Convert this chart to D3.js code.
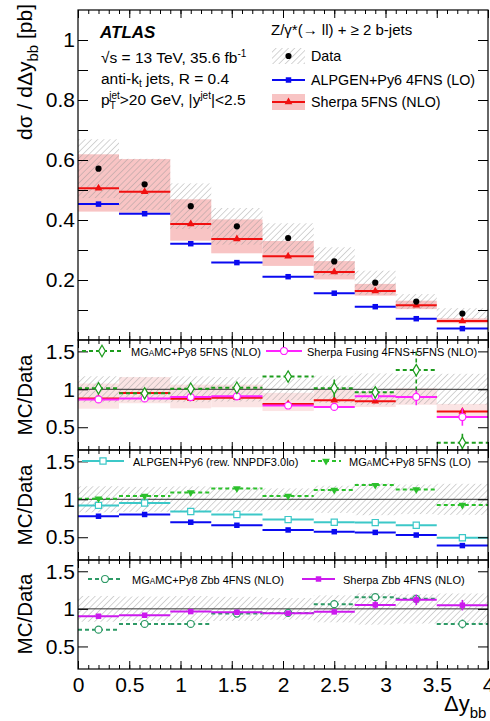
<!DOCTYPE html>
<html>
<head>
<meta charset="utf-8">
<script src="https://cdn.jsdelivr.net/npm/d3@7"></script>
<style>
  body { margin: 0; background: #fff; }
  svg { display: block; font-family: "Liberation Sans", Arial, Helvetica, sans-serif; }
</style>
</head>
<body>
<svg id="chart" width="490" height="721"></svg>
<script>
// bins in delta y_bb
const binEdges = [0, 0.4, 0.9, 1.3, 1.8, 2.3, 2.7, 3.1, 3.5, 4.0];
const binCenters = [0.2, 0.65, 1.1, 1.55, 2.05, 2.5, 2.9, 3.3, 3.75];

// top panel, cross sections [pb]
const dataXs = [0.571, 0.519, 0.446, 0.379, 0.340, 0.262, 0.191, 0.128, 0.088];
const dataErr = [0.098, 0.085, 0.076, 0.061, 0.049, 0.047, 0.040, 0.025, 0.018];
const sherpa5 = [0.506, 0.494, 0.387, 0.337, 0.279, 0.227, 0.163, 0.116, 0.063];
const sherpa5Lo = [0.428, 0.424, 0.331, 0.289, 0.247, 0.202, 0.148, 0.103, 0.056];
const sherpa5Hi = [0.619, 0.603, 0.469, 0.402, 0.330, 0.263, 0.187, 0.131, 0.072];
const alpgen = [0.453, 0.421, 0.321, 0.258, 0.211, 0.156, 0.111, 0.071, 0.038];

// ratio panel 1
const r1Sherpa5 = [0.880, 0.951, 0.876, 0.890, 0.806, 0.857, 0.844, 0.897, 0.707];
const r1Fusing = [0.867, 0.880, 0.898, 0.907, 0.786, 0.768, 0.910, 0.900, 0.635];
const r1FusingErr = [0.02, 0.02, 0.02, 0.02, 0.03, 0.04, 0.03, 0.11, 0.115];
const r1Mg5 = [1.013, 0.947, 1.008, 1.020, 1.168, 1.013, 0.960, 1.253, 0.297];
const r1Mg5Err = [0.06, 0.04, 0.05, 0.04, 0.07, 0.12, 0.08, 0.27, 0.12];

// ratio panel 2
const r2AlpgenRew = [0.920, 0.951, 0.840, 0.800, 0.733, 0.698, 0.693, 0.658, 0.493];
const r2Alpgen = [0.777, 0.800, 0.698, 0.658, 0.596, 0.573, 0.564, 0.529, 0.390];
const r2MgLo = [1.009, 1.044, 1.089, 1.142, 1.044, 1.124, 1.187, 1.129, 0.924];
const r2MgLoErr = [0.02, 0.02, 0.02, 0.02, 0.02, 0.03, 0.03, 0.03, 0.04];

// ratio panel 3
const r3MgZbb = [0.723, 0.799, 0.799, 0.937, 0.946, 1.063, 1.156, 1.134, 0.799];
const r3MgZbbErr = [0.02, 0.02, 0.02, 0.02, 0.02, 0.03, 0.04, 0.05, 0.06];
const r3SherpaZbb = [0.902, 0.915, 0.964, 0.955, 0.942, 0.960, 1.053, 1.120, 1.049];
const r3SherpaZbbErr = [0.02, 0.02, 0.02, 0.02, 0.02, 0.03, 0.05, 0.07, 0.07];

const topTicks = [0.1, 0.2, 0.3, 0.4, 0.5, 0.6, 0.7, 0.8, 0.9, 1.0];
const topLabels = [0.2, 0.4, 0.6, 0.8, 1.0];
const ratioTicks = [0.5, 1, 1.5];
const xMajor = [0, 0.5, 1, 1.5, 2, 2.5, 3, 3.5, 4];

const svg = d3.select("#chart");
const FONT = 21;

const bins = binCenters.map((c, i) => ({ lo: binEdges[i], hi: binEdges[i + 1], c, i }));
const x = d3.scaleLinear().domain([0, 4]).range([78, 488]);
const yTop = d3.scaleLinear().domain([0, 1.1]).range([340, 10]);
const panels = [[340, 450], [450, 560], [560, 669]].map(([t, b]) =>
  d3.scaleLinear().domain([0.2, 1.65]).range([b, t]));

const defs = svg.append("defs");
const hatch = defs.append("pattern")
  .attr("id", "hatch")
  .attr("patternUnits", "userSpaceOnUse")
  .attr("width", 4.4).attr("height", 4.4)
  .attr("patternTransform", "rotate(45)");
hatch.append("line")
  .attr("x1", 0).attr("y1", 0).attr("x2", 0).attr("y2", 4.4)
  .attr("stroke", "#959595").attr("stroke-width", 0.8);

function clipFor(id, y) {
  defs.append("clipPath").attr("id", id).append("rect")
    .attr("x", x.range()[0]).attr("y", y.range()[1])
    .attr("width", x.range()[1] - x.range()[0])
    .attr("height", y.range()[0] - y.range()[1]);
  return svg.append("g").attr("clip-path", `url(#${id})`);
}

function marker(g, type, cx, cy, color) {
  const shapes = {
    circle: [d3.symbolCircle, 30, color, 0],
    square: [d3.symbolSquare, 30, color, 0],
    triUp: [d3.symbolTriangle, 26, color, 0],
    triDown: [d3.symbolTriangle, 26, color, 180],
    openCircle: [d3.symbolCircle, 38, "#fff", 0],
    openSquare: [d3.symbolSquare, 38, "#fff", 0],
    openDiamond: [d3.symbolDiamond, 38, "#fff", 0]
  };
  const [sym, size, fill, rot] = shapes[type];
  g.append("path")
    .attr("d", d3.symbol(sym, size)())
    .attr("transform", `translate(${cx},${cy}) rotate(${rot})`)
    .attr("fill", fill)
    .attr("stroke", color)
    .attr("stroke-width", fill === "#fff" ? 1.2 : 0);
}

function drawSeries(g, y, vals, opt) {
  const errs = opt.err || null;
  bins.forEach(b => {
    const v = vals[b.i];
    if (errs) {
      g.append("line")
        .attr("x1", x(b.c)).attr("x2", x(b.c))
        .attr("y1", y(v - errs[b.i])).attr("y2", y(v + errs[b.i]))
        .attr("stroke", opt.color).attr("stroke-width", 1.6)
        .attr("stroke-dasharray", opt.dash || null);
    }
    g.append("line")
      .attr("x1", x(b.lo)).attr("x2", x(b.hi))
      .attr("y1", y(v)).attr("y2", y(v))
      .attr("stroke", opt.color).attr("stroke-width", 2)
      .attr("stroke-dasharray", opt.dash || null);
    if (opt.marker) marker(g, opt.marker, x(b.c), y(v), opt.color);
  });
}

function drawBand(g, y, lo, hi, fill) {
  g.selectAll(null).data(bins).enter().append("rect")
    .attr("x", b => x(b.lo))
    .attr("width", b => x(b.hi) - x(b.lo))
    .attr("y", b => y(hi[b.i]))
    .attr("height", b => y(lo[b.i]) - y(hi[b.i]))
    .attr("fill", fill);
}

function drawFrame(y, yTickVals, yLabelVals, showX) {
  const [x0, x1] = x.range();
  const [yb, yt] = y.range();
  const fmt = d => String(+d.toFixed(1));

  const left = svg.append("g").attr("transform", `translate(${x0},0)`)
    .call(d3.axisLeft(y).tickValues(yTickVals).tickSize(-10).tickPadding(3)
      .tickFormat(d => yLabelVals.some(v => Math.abs(v - d) < 1e-6) ? fmt(d) : ""));
  const right = svg.append("g").attr("transform", `translate(${x1},0)`)
    .call(d3.axisRight(y).tickValues(yTickVals).tickSize(-10).tickFormat(""));

  const minor = d3.range(0, 41).map(i => i / 10);
  const axes = [
    svg.append("g").attr("transform", `translate(0,${yb})`)
      .call(d3.axisBottom(x).tickValues(minor).tickSize(-4).tickFormat("")),
    svg.append("g").attr("transform", `translate(0,${yt})`)
      .call(d3.axisTop(x).tickValues(minor).tickSize(-4).tickFormat("")),
    svg.append("g").attr("transform", `translate(0,${yt})`)
      .call(d3.axisTop(x).tickValues(xMajor).tickSize(-8).tickFormat(""))
  ];
  const bottomMajor = svg.append("g").attr("transform", `translate(0,${yb})`)
    .call(d3.axisBottom(x).tickValues(xMajor).tickSize(-8).tickPadding(8)
      .tickFormat(showX ? d3.format("~g") : ""));
  axes.push(left, right, bottomMajor);
  axes.forEach(a => {
    a.select(".domain").remove();
    a.selectAll("line").attr("stroke", "#000").attr("stroke-width", 1);
    a.selectAll("text").attr("fill", "#000").attr("font-size", FONT)
      .attr("font-family", "Liberation Sans, Arial, sans-serif");
  });

  svg.append("rect")
    .attr("x", x0).attr("y", yt).attr("width", x1 - x0).attr("height", yb - yt)
    .attr("fill", "none").attr("stroke", "#000").attr("stroke-width", 1.2);
}

// ---------- top panel ----------
const gTop = clipFor("clipTop", yTop);
drawBand(gTop, yTop, sherpa5Lo, sherpa5Hi, "#f8c4c4");
drawBand(gTop, yTop, dataXs.map((d, i) => d - dataErr[i]), dataXs.map((d, i) => d + dataErr[i]), "url(#hatch)");
drawSeries(gTop, yTop, alpgen, { color: "#0a0af0", marker: "square" });
drawSeries(gTop, yTop, sherpa5, { color: "#f01010", marker: "triUp" });
bins.forEach(b => marker(gTop, "circle", x(b.c), yTop(dataXs[b.i]), "#000"));
drawFrame(yTop, topTicks, topLabels, false);

// ---------- ratio panels ----------
const ratioHatchLo = dataXs.map((d, i) => 1 - dataErr[i] / d);
const ratioHatchHi = dataXs.map((d, i) => 1 + dataErr[i] / d);

function ratioBase(k) {
  const y = panels[k];
  const g = clipFor("clipR" + k, y);
  return { g, y };
}
function unityLine(g, y) {
  g.append("line")
    .attr("x1", x(0)).attr("x2", x(4)).attr("y1", y(1)).attr("y2", y(1))
    .attr("stroke", "#333").attr("stroke-width", 1);
}

// panel 1
{
  const { g, y } = ratioBase(0);
  drawBand(g, y, r1Sherpa5.map((v, i) => v * sherpa5Lo[i] / sherpa5[i]),
    r1Sherpa5.map((v, i) => v * sherpa5Hi[i] / sherpa5[i]), "#fbe4e4");
  drawBand(g, y, ratioHatchLo, ratioHatchHi, "url(#hatch)");
  unityLine(g, y);
  drawSeries(g, y, r1Sherpa5, { color: "#f01010", marker: "triUp" });
  drawSeries(g, y, r1Fusing, { color: "#ff22ff", marker: "openCircle", err: r1FusingErr });
  drawSeries(g, y, r1Mg5, { color: "#1c9c1c", marker: "openDiamond", err: r1Mg5Err, dash: "4,3" });
  drawFrame(y, ratioTicks, ratioTicks, false);
}
// panel 2
{
  const { g, y } = ratioBase(1);
  drawBand(g, y, ratioHatchLo, ratioHatchHi, "url(#hatch)");
  unityLine(g, y);
  drawSeries(g, y, r2Alpgen, { color: "#0a0af0", marker: "square" });
  drawSeries(g, y, r2AlpgenRew, { color: "#3cc8c8", marker: "openSquare" });
  drawSeries(g, y, r2MgLo, { color: "#2cc02c", marker: "triDown", err: r2MgLoErr, dash: "4,3" });
  drawFrame(y, ratioTicks, ratioTicks, false);
}
// panel 3
{
  const { g, y } = ratioBase(2);
  drawBand(g, y, ratioHatchLo, ratioHatchHi, "url(#hatch)");
  unityLine(g, y);
  drawSeries(g, y, r3MgZbb, { color: "#2e9a66", marker: "openCircle", err: r3MgZbbErr, dash: "4,3" });
  drawSeries(g, y, r3SherpaZbb, { color: "#cc1aee", marker: "square", err: r3SherpaZbbErr });
  drawFrame(y, ratioTicks, ratioTicks, true);
}

// ---------- axis titles ----------
const yTitle = svg.append("text")
  .attr("transform", "translate(32,4) rotate(-90)")
  .attr("text-anchor", "end")
  .attr("font-size", 21);
yTitle.append("tspan").text("dσ / dΔy");
yTitle.append("tspan").attr("font-size", 15).attr("dy", 6).text("bb");
yTitle.append("tspan").attr("dy", -6).text(" [pb]");

[395, 505, 614].forEach(cy => {
  svg.append("text")
    .attr("transform", `translate(32,${cy}) rotate(-90)`)
    .attr("text-anchor", "middle")
    .attr("font-size", 20.5)
    .text("MC/Data");
});

const xTitle = svg.append("text")
  .attr("x", 444).attr("y", 711).attr("font-size", 22);
xTitle.append("tspan").text("Δy");
xTitle.append("tspan").attr("font-size", 15).attr("dy", 7).text("bb");

// ---------- top panel labels and legend ----------
svg.append("text").attr("x", 100).attr("y", 38)
  .attr("font-size", 17).attr("font-weight", "bold").attr("font-style", "italic")
  .text("ATLAS");

const SUB = 10;
const t1 = svg.append("text").attr("x", 101).attr("y", 63).attr("font-size", 15.5);
t1.append("tspan").text("√s = 13 TeV, 35.6 fb");
t1.append("tspan").attr("font-size", SUB).attr("dy", -6).text("-1");

const t2 = svg.append("text").attr("x", 101).attr("y", 84).attr("font-size", 15.5);
t2.append("tspan").text("anti-k");
t2.append("tspan").attr("font-size", SUB).attr("dy", 3).text("t");
t2.append("tspan").attr("dy", -3).text(" jets, R = 0.4");

const t3 = svg.append("text").attr("x", 101).attr("y", 105).attr("font-size", 15.5);
t3.append("tspan").text("p");
t3.append("tspan").attr("font-size", SUB).attr("dy", 4).text("T");
t3.append("tspan").attr("font-size", SUB).attr("dx", -6.5).attr("dy", -10).text("jet");
t3.append("tspan").attr("dy", 6).text(">20 GeV, |y");
t3.append("tspan").attr("font-size", SUB).attr("dy", -6).text("jet");
t3.append("tspan").attr("dy", 6).text("|<2.5");

svg.append("text").attr("x", 271).attr("y", 35).attr("font-size", 15)
  .text("Z/γ*(→ ll) + ≥ 2 b-jets");

const lg = svg.append("g").attr("font-size", 14.3);
lg.append("rect").attr("x", 272).attr("y", 48).attr("width", 33).attr("height", 16).attr("fill", "url(#hatch)");
marker(lg, "circle", 288.5, 56, "#000");
lg.append("text").attr("x", 311).attr("y", 61).text("Data");

lg.append("line").attr("x1", 272).attr("x2", 305).attr("y1", 80).attr("y2", 80)
  .attr("stroke", "#0a0af0").attr("stroke-width", 2);
marker(lg, "square", 288.5, 80, "#0a0af0");
lg.append("text").attr("x", 311).attr("y", 85).text("ALPGEN+Py6 4FNS (LO)");

lg.append("rect").attr("x", 272).attr("y", 94).attr("width", 33).attr("height", 16).attr("fill", "#f8c4c4");
lg.append("line").attr("x1", 272).attr("x2", 305).attr("y1", 102).attr("y2", 102)
  .attr("stroke", "#f01010").attr("stroke-width", 2);
marker(lg, "triUp", 288.5, 102, "#f01010");
lg.append("text").attr("x", 311).attr("y", 107).text("Sherpa 5FNS (NLO)");

// ---------- ratio legends ----------
function ratioLegend(x1, x2, y, color, type, dash, label, tx) {
  const g = svg.append("g");
  g.append("line").attr("x1", x1).attr("x2", x2).attr("y1", y).attr("y2", y)
    .attr("stroke", color).attr("stroke-width", 2).attr("stroke-dasharray", dash || null);
  marker(g, type, (x1 + x2) / 2, y, color);
  const t = g.append("text").attr("x", tx).attr("y", y + 4.5).attr("font-size", 11);
  if (label.startsWith("MGAMC")) {
    t.append("tspan").text("MG");
    t.append("tspan").attr("font-size", 8.2).text("A");
    t.append("tspan").text(label.slice(3));
  } else {
    t.text(label);
  }
}
ratioLegend(82, 122, 351, "#1c9c1c", "openDiamond", "4,3", "MGAMC+Py8 5FNS (NLO)", 131);
ratioLegend(266, 302, 351, "#ff22ff", "openCircle", null, "Sherpa Fusing 4FNS+5FNS (NLO)", 307);
ratioLegend(82, 124, 461, "#3cc8c8", "openSquare", null, "ALPGEN+Py6 (rew. NNPDF3.0lo)", 133);
ratioLegend(311, 341, 461, "#2cc02c", "triDown", "4,3", "MGAMC+Py8 5FNS (LO)", 349);
ratioLegend(88, 122, 579, "#2e9a66", "openCircle", "4,3", "MGAMC+Py8 Zbb 4FNS (NLO)", 132);
ratioLegend(302, 335, 579, "#cc1aee", "square", null, "Sherpa Zbb 4FNS (NLO)", 343);
</script>
</body>
</html>
